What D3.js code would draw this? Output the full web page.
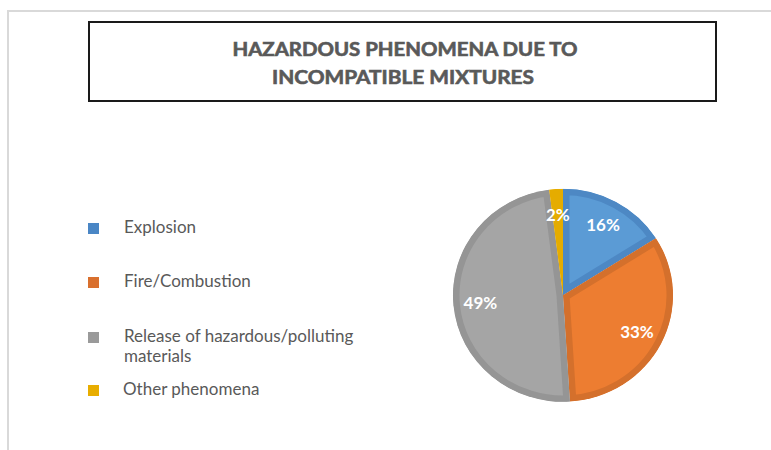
<!DOCTYPE html>
<html>
<head>
<meta charset="utf-8">
<script src="https://cdn.jsdelivr.net/npm/d3@7"></script>
<style>
  html, body { margin: 0; padding: 0; background: #fff; }
  svg { display: block; }
</style>
</head>
<body>
<svg id="chart" width="771" height="450"></svg>
<script>
// Share of hazardous phenomena caused by incompatible mixtures (percent)
const categories = ["Explosion", "Fire/Combustion", "Release of hazardous/polluting materials", "Other phenomena"];
const legendLines = [["Explosion"], ["Fire/Combustion"], ["Release of hazardous/polluting", "materials"], ["Other phenomena"]];
const values = [16, 33, 49, 2];
const titleLines = ["HAZARDOUS PHENOMENA DUE TO", "INCOMPATIBLE MIXTURES"];

const fillColors = ["#5b9bd5", "#ed7d31", "#a5a5a5", "#ffc000"];
const edgeColors = ["#4d88c4", "#d4702c", "#959595", "#e5ac00"];
const legendColors = ["#4a86c5", "#d9702e", "#9a9a9a", "#e8ad00"];

const svg = d3.select("#chart");
const font = "Lato, 'Open Sans', sans-serif";

// outer chart frame (only top and left edges fall inside the view)
svg.append("path")
  .attr("d", "M8,450 V11 H771")
  .attr("fill", "none")
  .attr("stroke", "#d9d9d9")
  .attr("stroke-width", 2);

// title box
svg.append("rect")
  .attr("x", 89).attr("y", 22)
  .attr("width", 627).attr("height", 79)
  .attr("fill", "#fff")
  .attr("stroke", "#1a1a1a")
  .attr("stroke-width", 2);

const titleWidths = [345, 262];
svg.append("g").selectAll("text")
  .data(titleLines)
  .join("text")
  .attr("x", (d, i) => i === 0 ? 405 : 403)
  .attr("y", (d, i) => 55.5 + i * 28.3)
  .attr("text-anchor", "middle")
  .attr("font-family", font)
  .attr("font-weight", "bold")
  .attr("font-size", 18)
  .attr("fill", "#595959")
  .attr("stroke", "#595959")
  .attr("stroke-width", 0.6)
  .attr("textLength", (d, i) => titleWidths[i])
  .attr("lengthAdjust", "spacingAndGlyphs")
  .text(d => d);

// legend
const legendY = [223, 277, 332, 385];
const legend = svg.append("g");
categories.forEach((c, i) => {
  legend.append("rect")
    .attr("x", 88).attr("y", legendY[i])
    .attr("width", 11).attr("height", 11)
    .attr("fill", legendColors[i]);
  legendLines[i].forEach((line, j) => {
    legend.append("text")
      .attr("x", i === 3 ? 123 : 124)
      .attr("y", legendY[i] + 10 + j * 20)
      .attr("font-family", font)
      .attr("font-size", 17)
      .attr("fill", "#595959")
      .text(line);
  });
});

// pie (drawn slightly flattened vertically)
const cx = 563, cy = 295.3, r = 110, sy = 0.968;
const pie = d3.pie().sort(null).value(d => d)(values);
const arc = d3.arc().innerRadius(0).outerRadius(r);
const labelArc = d3.arc().innerRadius(83).outerRadius(83);

const g = svg.append("g").attr("transform", `translate(${cx},${cy}) scale(1,${sy})`);
const defs = svg.append("defs");

pie.forEach((p, i) => {
  const id = "slice-clip-" + i;
  defs.append("clipPath").attr("id", id)
    .append("path").attr("d", arc(p));
  g.append("path")
    .attr("d", arc(p))
    .attr("fill", fillColors[i])
    .attr("stroke", edgeColors[i])
    .attr("stroke-width", 13)
    .attr("stroke-linejoin", "miter")
    .attr("clip-path", `url(#${id})`);
});

svg.append("g").attr("transform", `translate(${cx},${cy})`)
  .selectAll("text.val")
  .data(pie)
  .join("text")
  .attr("class", "val")
  .attr("transform", d => {
    const [x, y] = labelArc.centroid(d);
    return `translate(${x},${y * sy})`;
  })
  .attr("text-anchor", "middle")
  .attr("dy", "0.36em")
  .attr("font-family", font)
  .attr("font-weight", "bold")
  .attr("font-size", 17)
  .attr("fill", "#fff")
  .text(d => d.value + "%");
</script>
</body>
</html>
